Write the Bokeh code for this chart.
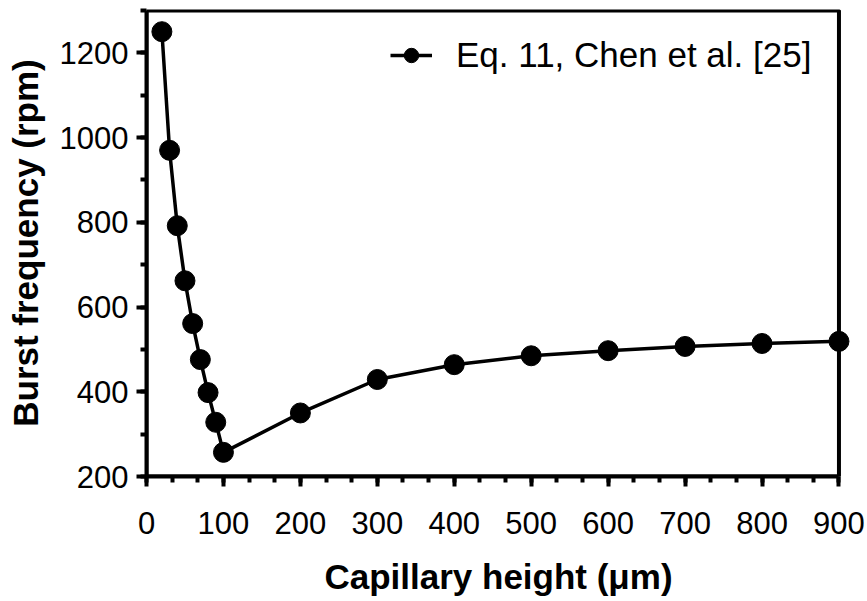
from bokeh.plotting import figure
from bokeh.models import Range1d, BoxAnnotation, Legend, LegendItem, FixedTicker
from bokeh.embed import file_html
from bokeh.resources import INLINE

height_um = [20, 30, 40, 50, 60, 70, 80, 90, 100, 200, 300, 400, 500, 600, 700, 800, 900]
burst_rpm = [1250, 970, 792, 662, 561, 476, 398, 328, 257, 350, 429, 464, 485, 497, 507, 514, 519]
x_ticks = [0, 100, 200, 300, 400, 500, 600, 700, 800, 900]
y_ticks = [200, 400, 600, 800, 1000, 1200]
series_label = "Eq. 11, Chen et al. [25]"

FONT = "Liberation Sans"

p = figure(width=867, height=601, output_backend="svg", toolbar_location=None,
           x_range=Range1d(0, 915), y_range=Range1d(200, 1302.4),
           min_border_left=146, min_border_right=17, min_border_top=9, min_border_bottom=125)
p.outline_line_color = None
p.grid.visible = False
p.background_fill_color = "white"

line = p.line(height_um, burst_rpm, line_color="black", line_width=3.5)
pts = p.scatter(height_um, burst_rpm, size=20, fill_color="black", line_color="black")

frame = BoxAnnotation(left=0, right=900, bottom=200, top=1300, fill_alpha=0,
                      line_color="black", line_alpha=1.0, line_width=4)
p.add_layout(frame)

for ax in (p.xaxis[0], p.yaxis[0]):
    ax.axis_line_width = 4
    ax.major_tick_line_width = 4
    ax.minor_tick_line_width = 4
    ax.major_tick_out = 10
    ax.major_tick_in = 0
    ax.minor_tick_out = 6
    ax.minor_tick_in = 0
    ax.major_label_text_font = FONT
    ax.major_label_text_font_size = "31px"
    ax.major_label_text_color = "black"
    ax.axis_label_text_font = FONT
    ax.axis_label_text_font_size = "35px"
    ax.axis_label_text_font_style = "bold"
    ax.axis_label_text_color = "black"

p.xaxis.bounds = (0, 900)
p.yaxis.bounds = (200, 1300)
p.xaxis.ticker = FixedTicker(ticks=x_ticks, minor_ticks=[i * 100 / 3 for i in range(28)])
p.yaxis.ticker = FixedTicker(ticks=y_ticks, minor_ticks=list(range(200, 1301, 100)))
p.xaxis.axis_label = "Capillary height (μm)"
p.yaxis.axis_label = "Burst frequency (rpm)"
p.xaxis.major_label_standoff = 25
p.xaxis.axis_label_standoff = 20
p.yaxis.major_label_standoff = 8
p.yaxis.axis_label_standoff = 12

legend = Legend(items=[LegendItem(label=series_label, renderers=[line, pts])],
                location=(244, 401), border_line_color=None, background_fill_alpha=0,
                padding=0, margin=0, spacing=0, glyph_width=42, glyph_height=36,
                label_height=36, label_standoff=24,
                label_text_font=FONT, label_text_font_size="35px", label_text_color="black")
p.add_layout(legend)

open("out.html", "w").write(file_html(p, INLINE))
